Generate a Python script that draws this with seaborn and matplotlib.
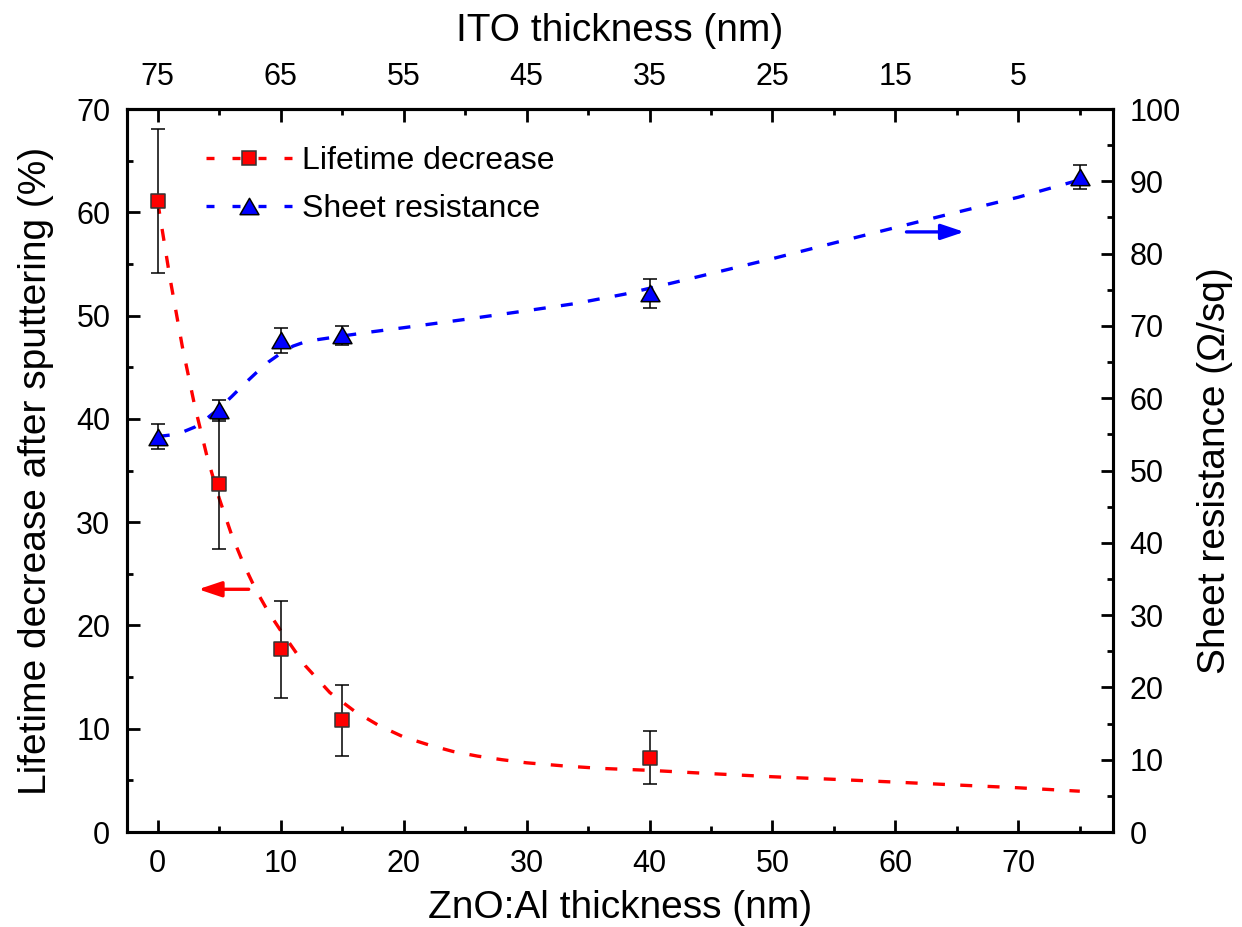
import matplotlib
matplotlib.use("Agg")
import matplotlib.pyplot as plt
import seaborn as sns
from matplotlib.lines import Line2D
from matplotlib.path import Path
from matplotlib.ticker import MultipleLocator, FixedLocator

# Measured samples (ZnO:Al layer thickness in nm)
zno_lifetime = [0, 5, 10, 15, 40]
lifetime_decrease = [61.1, 33.7, 17.7, 10.8, 7.2]
lifetime_err = [7.0, 6.3, 4.7, 3.4, 2.6]

zno_sheet = [0, 5, 10, 15, 40, 75]
sheet_resistance = [54.7, 58.3, 68.0, 68.7, 74.5, 90.6]
sheet_err = [1.7, 1.5, 1.7, 1.3, 2.0, 1.6]

# Guide curves through the data
fit_x = [0, 1, 2, 3, 4, 5, 6, 7, 8, 9, 10, 12, 14, 16, 18, 20, 22, 24, 26, 28,
         30, 33, 36, 40, 45, 50, 55, 60, 65, 70, 75]
fit_y = [61.0, 53.6, 47.0, 41.3, 36.4, 32.3, 28.8, 25.9, 23.4, 21.3, 19.5, 16.1,
         13.5, 11.7, 10.3, 9.2, 8.45, 7.8, 7.35, 7.0, 6.7, 6.4, 6.16, 5.97, 5.65,
         5.35, 5.1, 4.83, 4.55, 4.28, 3.95]

trend_x = [0, 1, 2, 3, 4, 5, 6, 7, 8, 9, 10, 11, 12, 13, 15, 17.5, 20, 25, 30,
           34, 38, 42, 50, 56, 64, 70, 75]
trend_y = [54.7, 54.9, 55.3, 56.0, 57.2, 58.6, 60.2, 61.9, 63.5, 65.0, 66.2, 67.2,
           67.8, 68.1, 68.6, 69.2, 69.75, 70.9, 72.1, 73.1, 74.4, 76.0, 79.3, 81.9,
           85.3, 87.8, 90.2]

# Axis ticks
x_ticks = [0, 10, 20, 30, 40, 50, 60, 70]
ito_ticks = [75, 65, 55, 45, 35, 25, 15, 5]
ito_minor = [70, 60, 50, 40, 30, 20, 10, 0]
total_thickness = 75

legend_labels = ["Lifetime decrease", "Sheet resistance"]

TICK_FS = 22
LABEL_FS = 28

sns.set_theme(style="ticks", rc={
    "axes.edgecolor": "black", "xtick.color": "black", "ytick.color": "black",
    "text.color": "black", "axes.labelcolor": "black",
    "xtick.labelsize": TICK_FS, "ytick.labelsize": TICK_FS,
    "xtick.direction": "in", "ytick.direction": "in",
})
plt.rcParams["font.family"] = ["Liberation Sans", "DejaVu Sans"]

W, H = 1242, 927
fig = plt.figure(figsize=(W / 100, H / 100), dpi=100)
ax = fig.add_axes([127 / W, 1 - 832 / H, 986 / W, 723 / H])
ax2 = ax.twinx()

LW = 2.4
dash = (0, (3.6, 4.6))
RED, BLUE = "#FF0000", "#0000FF"
tri = Path([(-1, -0.866), (1, -0.866), (0, 0.866), (-1, -0.866)],
           [Path.MOVETO, Path.LINETO, Path.LINETO, Path.CLOSEPOLY])

# Lifetime (left axis)
sns.lineplot(x=fit_x, y=fit_y, ax=ax, color=RED, linewidth=LW, linestyle=dash,
             sort=False, estimator=None, legend=False, zorder=2)
ax.errorbar(zno_lifetime, lifetime_decrease, yerr=lifetime_err, fmt="none",
            ecolor="black", elinewidth=1.1, capsize=5, capthick=1.1, zorder=3)
sns.scatterplot(x=zno_lifetime, y=lifetime_decrease, ax=ax, marker="s", s=98,
                color=RED, edgecolor="#333333", linewidth=1.1, zorder=4,
                legend=False)

# Sheet resistance (right axis)
sns.lineplot(x=trend_x, y=trend_y, ax=ax2, color=BLUE, linewidth=LW, linestyle=dash,
             sort=False, estimator=None, legend=False, zorder=2)
ax2.errorbar(zno_sheet, sheet_resistance, yerr=sheet_err, fmt="none",
             ecolor="black", elinewidth=1.1, capsize=5, capthick=1.1, zorder=3)
sns.scatterplot(x=zno_sheet, y=sheet_resistance, ax=ax2, marker=tri, s=185,
                color=BLUE, edgecolor="black", linewidth=1.1, zorder=4,
                legend=False)

# Arrows pointing to the matching axis
arrow_kw = dict(arrowstyle="-|>,head_length=14,head_width=4.7", lw=LW,
                shrinkA=0, shrinkB=0, mutation_scale=1)
ax.annotate("", xy=(3.3, 23.5), xytext=(7.4, 23.5),
            arrowprops=dict(color=RED, **arrow_kw))
ax2.annotate("", xy=(65.6, 83.0), xytext=(60.9, 83.0),
             arrowprops=dict(color=BLUE, **arrow_kw))

# Limits and ticks
ax.set_xlim(-2.5, 77.7)
ax.set_ylim(0, 70)
ax2.set_ylim(0, 100)
ax.set_xticks(x_ticks)
ax.xaxis.set_minor_locator(MultipleLocator(5))
ax.yaxis.set_major_locator(MultipleLocator(10))
ax.yaxis.set_minor_locator(MultipleLocator(5))
ax2.yaxis.set_major_locator(MultipleLocator(10))
ax2.yaxis.set_minor_locator(MultipleLocator(5))

secax = ax.secondary_xaxis("top", functions=(lambda x: total_thickness - x,
                                             lambda t: total_thickness - t))
secax.set_xticks(ito_ticks)
secax.xaxis.set_minor_locator(FixedLocator(ito_minor))

for a, kw in ((ax, dict(top=False, right=False)), (ax2, dict(left=False)), (secax, {})):
    a.tick_params(which="both", direction="in", width=2.0, pad=12, **kw)
    a.tick_params(which="major", length=9, labelsize=TICK_FS)
    a.tick_params(which="minor", length=4.5)

for a in (ax, ax2):
    for sp in a.spines.values():
        sp.set_linewidth(2.2)
        sp.set_color("black")
for sp in secax.spines.values():
    sp.set_linewidth(2.2)

# Axis labels
ax.set_xlabel("ZnO:Al thickness (nm)", fontsize=LABEL_FS)
ax.xaxis.set_label_coords(0.5, -(890 - 832) / 723, transform=ax.transAxes)
ax.set_ylabel("Lifetime decrease after sputtering (%)", fontsize=LABEL_FS)
ax.yaxis.set_label_coords(-(127 - 54) / 986, 0.5, transform=ax.transAxes)
ax2.set_ylabel("Sheet resistance (\u03A9/sq)", fontsize=LABEL_FS)
ax2.yaxis.set_label_coords((1197 - 127) / 986, 0.5, transform=ax2.transAxes)
secax.set_xlabel("ITO thickness (nm)", fontsize=LABEL_FS)
secax.xaxis.set_label_coords(0.5, 1 + (109 - 41) / 723, transform=ax.transAxes)

# Legend
leg_dash = (0, (2.4, 5.4))
handles = [
    Line2D([0], [0], color=RED, lw=LW, linestyle=leg_dash, marker="s",
           markersize=9.9, markerfacecolor=RED, markeredgecolor="#333333",
           markeredgewidth=1.1),
    Line2D([0], [0], color=BLUE, lw=LW, linestyle=leg_dash, marker=tri,
           markersize=13.6, markerfacecolor=BLUE, markeredgecolor="black",
           markeredgewidth=1.1),
]
ax2.legend(handles, legend_labels, loc="upper left",
           bbox_to_anchor=((206 - 127) / 986, 1 - (146 - 109) / 723),
           frameon=False, fontsize=23, handlelength=2.7, handletextpad=0.3,
           labelspacing=0.56, borderaxespad=0, borderpad=0)

fig.savefig("out.png", dpi=100)
